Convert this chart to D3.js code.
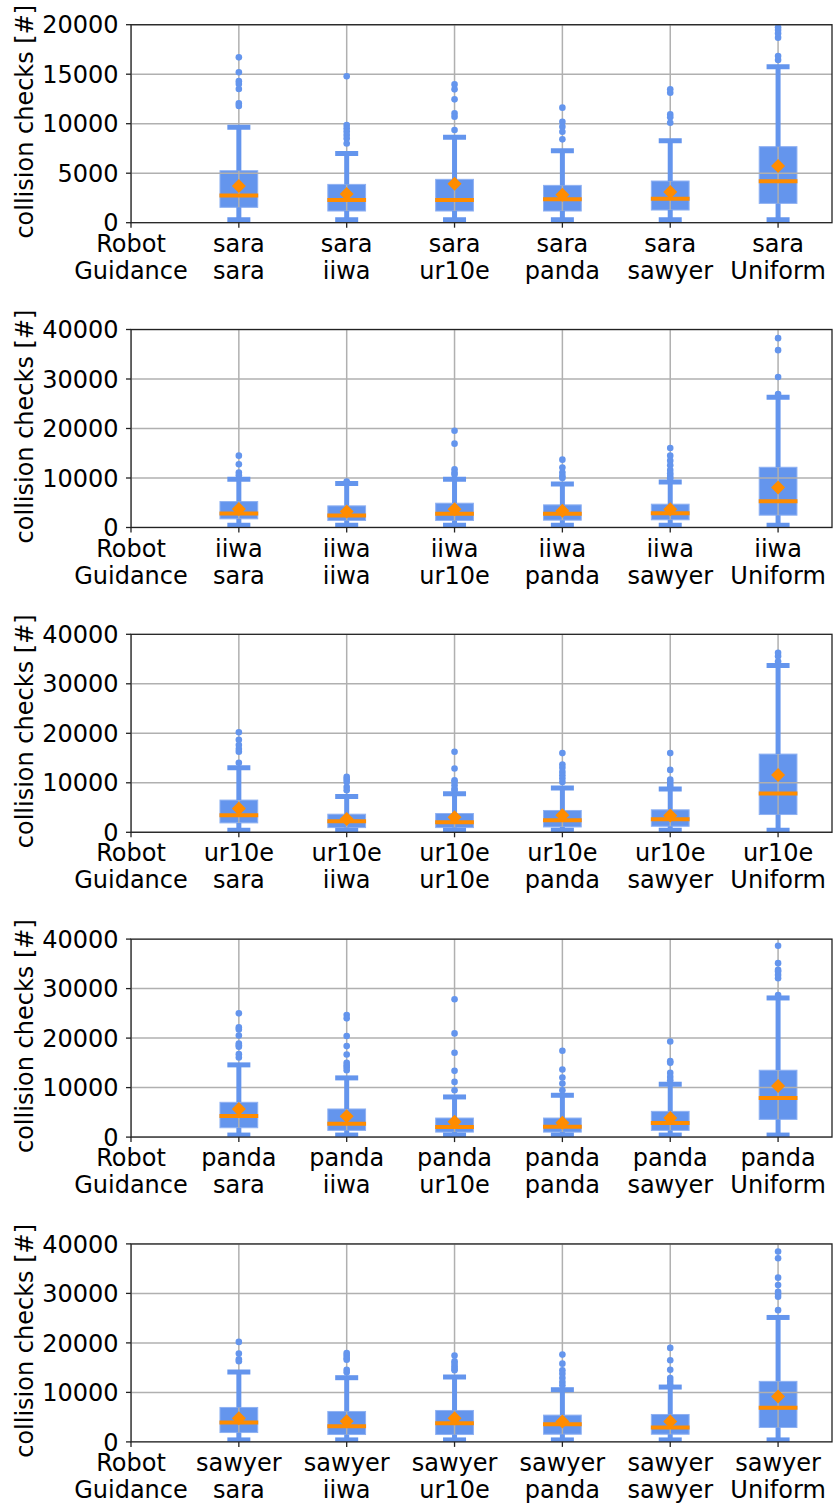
<!DOCTYPE html>
<html>
<head>
<meta charset="utf-8">
<script src="https://cdn.jsdelivr.net/npm/d3@7"></script>
<style>
  html, body { margin: 0; padding: 0; background: #fff; }
  svg { display: block; font-family: "DejaVu Sans", sans-serif; }
</style>
</head>
<body>
<svg width="835" height="1505"></svg>
<script>
// --- Data ---
const robots = ["sara", "iiwa", "ur10e", "panda", "sawyer"];
const guidances = ["sara", "iiwa", "ur10e", "panda", "sawyer", "Uniform"];
const yMax = [20000, 40000, 40000, 40000, 40000];
const yTickStep = [5000, 10000, 10000, 10000, 10000];

// one row per robot, one column per guidance
const whiskerLow = [
  [300, 300, 300, 300, 300, 300],
  [470, 470, 470, 470, 470, 470],
  [410, 410, 410, 410, 410, 410],
  [410, 410, 410, 410, 410, 410],
  [400, 400, 400, 400, 400, 400]
];
const q1 = [
  [1550, 1180, 1180, 1180, 1280, 1950],
  [1750, 1410, 1410, 1480, 1550, 2490],
  [1900, 950, 950, 1080, 1220, 3590],
  [1890, 1350, 1010, 1010, 1350, 3580],
  [1890, 1490, 1490, 1550, 1550, 2910]
];
const medians = [
  [2760, 2290, 2290, 2360, 2420, 4180],
  [2820, 2420, 2760, 2760, 2890, 5310],
  [3460, 2240, 2030, 2440, 2640, 7860],
  [4260, 2700, 2030, 2090, 2840, 7910],
  [3920, 3180, 3780, 3580, 2910, 6890]
];
const q3 = [
  [5250, 3870, 4380, 3770, 4210, 7680],
  [5240, 4370, 4910, 4570, 4710, 12170],
  [6510, 3660, 3800, 4410, 4540, 15800],
  [7030, 5680, 3850, 3850, 5200, 13510],
  [6960, 6150, 6350, 5410, 5540, 12230]
];
const whiskerHigh = [
  [9630, 7000, 8620, 7270, 8280, 15760],
  [9750, 8870, 9750, 8810, 9210, 26290],
  [13020, 7250, 7800, 8950, 8750, 33690],
  [14590, 11960, 8110, 8450, 10680, 28110],
  [14120, 12970, 13110, 10540, 11080, 25140]
];
const means = [
  [3700, 2900, 3940, 2830, 3100, 5720],
  [3760, 3230, 3700, 3360, 3700, 8070],
  [4810, 2710, 3050, 3460, 3390, 11590],
  [5680, 4190, 3110, 2910, 3850, 10340],
  [4800, 4190, 4800, 4120, 4120, 9190]
];
const fliers = [
  [
    [16700, 15200, 14300, 14000, 13500, 12050, 11800],
    [14800, 9870, 9530, 9200, 8850, 8500, 8000],
    [13970, 13470, 12460, 11040, 10700, 9360],
    [11620, 10200, 9700, 9190, 8420],
    [13470, 13130, 10940, 10640, 10100],
    [16430, 16840, 18690, 19120, 19460, 19730]
  ],
  [
    [14520, 12770, 11090, 10550],
    [9280],
    [19560, 16940, 11760, 11090, 10690],
    [13710, 12100, 11090, 10420, 10020],
    [16070, 14520, 13510, 12570, 11630, 10960, 10420, 9950],
    [26960, 30390, 35830, 38250]
  ],
  [
    [20200, 18710, 17630, 16810, 16270, 14030],
    [11190, 10710, 10170, 9150, 8470],
    [16270, 12880, 10510, 10170, 9490, 8810, 8470],
    [16000, 13690, 13020, 12200, 11530, 10850, 10170],
    [16000, 12610, 10640, 10170, 9630, 9150],
    [34500, 35590, 36270]
  ],
  [
    [25000, 22160, 21760, 20540, 18920, 18580, 18240, 16760, 16080],
    [24660, 23990, 20410, 18380, 16690, 15000, 14530, 14050, 13510],
    [27840, 20950, 17030, 13380, 11150, 9460],
    [17430, 13650, 12030, 10810, 9460],
    [19320, 15340, 15000, 12970, 12160, 11490],
    [28720, 32090, 32770, 33450, 33780, 35140, 38650]
  ],
  [
    [20200, 17840, 16690, 16280],
    [17970, 17500, 16960, 16620, 14590, 14050],
    [17430, 16280, 15810, 15270, 14800, 14460],
    [17640, 15810, 14460, 13780, 12910, 12090, 11420],
    [18990, 16490, 14590, 12910, 12300, 11620],
    [26620, 29320, 29860, 30340, 31690, 33180, 37090, 38450]
  ]
];

// --- Layout ---
const svg = d3.select("svg");
const left = 131, right = 832;
const panelTop0 = 24.7, panelStep = 304.8, panelH = 198;
const blue = "#6495ed", orange = "#ff8c00", gridColor = "#b0b0b0";
const fontSize = 24;

const x = d3.scaleLinear().domain([0, 6.5]).range([left, right]);
const boxW = x(0.35) - x(0);
const capW = 23;

robots.forEach((robot, r) => {
  const top = panelTop0 + r * panelStep;
  const bottom = top + panelH;
  const y = d3.scaleLinear().domain([0, yMax[r]]).range([bottom, top]);
  const g = svg.append("g");

  const items = guidances.map((gd, i) => ({
    pos: i + 1,
    lo: whiskerLow[r][i], q1: q1[r][i], med: medians[r][i],
    q3: q3[r][i], hi: whiskerHigh[r][i], mean: means[r][i],
    fl: fliers[r][i]
  }));

  // clip to axes area
  const clipId = "clip" + r;
  svg.append("clipPath").attr("id", clipId)
    .append("rect").attr("x", left).attr("y", top)
    .attr("width", right - left).attr("height", panelH);
  const plot = g.append("g").attr("clip-path", `url(#${clipId})`);

  // boxes
  plot.selectAll("rect.box").data(items).join("rect")
    .attr("class", "box")
    .attr("x", d => x(d.pos) - boxW / 2)
    .attr("y", d => y(d.q3))
    .attr("width", boxW)
    .attr("height", d => y(d.q1) - y(d.q3))
    .attr("fill", blue)
    .attr("stroke", "#8fb1f2")
    .attr("stroke-width", 1);

  // grid (drawn over the boxes like in the reference)
  const yTicks = d3.range(0, yMax[r] + 1, yTickStep[r]);
  plot.selectAll("line.hgrid").data(yTicks).join("line")
    .attr("x1", left).attr("x2", right)
    .attr("y1", d => y(d)).attr("y2", d => y(d))
    .attr("stroke", gridColor).attr("stroke-width", 1.5);
  plot.selectAll("line.vgrid").data(d3.range(0, 7)).join("line")
    .attr("x1", d => x(d)).attr("x2", d => x(d))
    .attr("y1", top).attr("y2", bottom)
    .attr("stroke", gridColor).attr("stroke-width", 1.5);

  // whiskers
  plot.selectAll("line.wlo").data(items).join("line")
    .attr("x1", d => x(d.pos)).attr("x2", d => x(d.pos))
    .attr("y1", d => y(d.q1)).attr("y2", d => y(d.lo))
    .attr("stroke", blue).attr("stroke-width", 5);
  plot.selectAll("line.whi").data(items).join("line")
    .attr("x1", d => x(d.pos)).attr("x2", d => x(d.pos))
    .attr("y1", d => y(d.q3)).attr("y2", d => y(d.hi))
    .attr("stroke", blue).attr("stroke-width", 5);

  // caps
  ["lo", "hi"].forEach(k => {
    plot.selectAll("line.cap" + k).data(items).join("line")
      .attr("x1", d => x(d.pos) - capW / 2).attr("x2", d => x(d.pos) + capW / 2)
      .attr("y1", d => y(d[k])).attr("y2", d => y(d[k]))
      .attr("stroke", blue).attr("stroke-width", 5);
  });

  // medians
  plot.selectAll("line.med").data(items).join("line")
    .attr("x1", d => x(d.pos) - boxW / 2 - 0.5).attr("x2", d => x(d.pos) + boxW / 2 + 0.5)
    .attr("y1", d => y(d.med)).attr("y2", d => y(d.med))
    .attr("stroke", orange).attr("stroke-width", 4);

  // means (diamonds)
  const dm = 7;
  plot.selectAll("path.mean").data(items).join("path")
    .attr("d", d => {
      const cx = x(d.pos), cy = y(d.mean);
      return `M${cx},${cy - dm}L${cx + dm},${cy}L${cx},${cy + dm}L${cx - dm},${cy}Z`;
    })
    .attr("fill", orange);

  // fliers
  const pts = items.flatMap(d => d.fl.map(v => ({ pos: d.pos, v })));
  plot.selectAll("circle.fl").data(pts).join("circle")
    .attr("cx", d => x(d.pos)).attr("cy", d => y(d.v))
    .attr("r", 3.3).attr("fill", blue);

  // spines
  g.append("rect")
    .attr("x", left).attr("y", top)
    .attr("width", right - left).attr("height", panelH)
    .attr("fill", "none").attr("stroke", "#222").attr("stroke-width", 1.3);

  // y ticks + labels
  g.selectAll("line.ytick").data(yTicks).join("line")
    .attr("x1", left - 5).attr("x2", left)
    .attr("y1", d => y(d)).attr("y2", d => y(d))
    .attr("stroke", "#222").attr("stroke-width", 1.3);
  g.selectAll("text.ytl").data(yTicks).join("text")
    .attr("x", left - 12.5).attr("y", d => y(d))
    .attr("dy", "0.36em")
    .attr("text-anchor", "end")
    .attr("font-size", fontSize)
    .attr("fill", "#000")
    .text(d => String(d));

  // x ticks + two-line labels
  const xLabels = [["Robot", "Guidance"]].concat(guidances.map(gd => [robot, gd]));
  g.selectAll("line.xtick").data(xLabels).join("line")
    .attr("x1", (d, i) => x(i)).attr("x2", (d, i) => x(i))
    .attr("y1", bottom).attr("y2", bottom + 5)
    .attr("stroke", "#222").attr("stroke-width", 1.3);
  const xt = g.selectAll("text.xtl").data(xLabels).join("text")
    .attr("text-anchor", "middle")
    .attr("font-size", fontSize)
    .attr("fill", "#000");
  xt.append("tspan").attr("x", (d, i) => x(i)).attr("y", bottom + 29).text(d => d[0]);
  xt.append("tspan").attr("x", (d, i) => x(i)).attr("y", bottom + 56).text(d => d[1]);

  // y axis label
  g.append("text")
    .attr("transform", `translate(33,${(top + bottom) / 2 - 2}) rotate(-90)`)
    .attr("text-anchor", "middle")
    .attr("font-size", fontSize)
    .attr("fill", "#000")
    .text("collision checks [#]");
});
</script>
</body>
</html>
